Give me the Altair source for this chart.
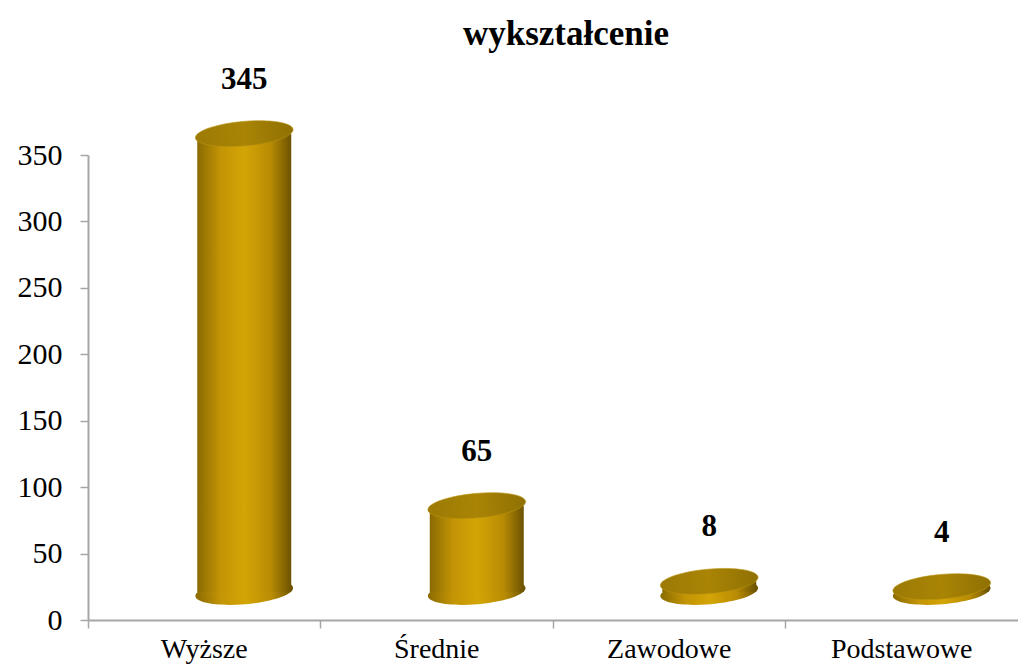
import altair as alt
import pandas as pd

categories = ["Wyższe", "Średnie", "Zawodowe", "Podstawowe"]
values = [345, 65, 8, 4]
title_text = "wykształcenie"

df = pd.DataFrame({"kategoria": categories, "liczba": values, "zero": [0] * len(values)})

FONT = "Liberation Serif"
DX, DY = 40, -28   # 3D depth shift of the cylinders (pixels)
W = 98             # cylinder width (pixels)
ELLIPSE = "M-1,0A1,0.25,0,1,0,1,0A1,0.25,0,1,0,-1,0Z"
TILT = 355

body = alt.Gradient(
    gradient="linear", x1=0, x2=1, y1=0, y2=0,
    stops=[
        alt.GradientStop(color="#8a6b02", offset=0),
        alt.GradientStop(color="#c39405", offset=0.25),
        alt.GradientStop(color="#d4a506", offset=0.5),
        alt.GradientStop(color="#b88b04", offset=0.78),
        alt.GradientStop(color="#6c5300", offset=1),
    ],
)
top_fill = alt.Gradient(
    gradient="linear", x1=0, x2=1, y1=0, y2=0,
    stops=[
        alt.GradientStop(color="#9c7a04", offset=0),
        alt.GradientStop(color="#a98405", offset=0.5),
        alt.GradientStop(color="#8f7003", offset=1),
    ],
)

x_enc = alt.X(
    "kategoria:N", sort=categories, title=None,
    scale=alt.Scale(paddingInner=0, paddingOuter=0),
    axis=alt.Axis(labelAngle=0, bandPosition=0, labelFont=FONT, labelFontSize=28,
                  labelColor="#000000", labelPadding=7, tickSize=8, grid=False,
                  domainColor="#a6a6a6", tickColor="#a6a6a6", domainWidth=2, tickWidth=1.5),
)
y_scale = alt.Scale(domain=[0, 350], nice=False)
y_axis = alt.Axis(values=[0, 50, 100, 150, 200, 250, 300, 350], grid=False,
                  labelFont=FONT, labelFontSize=30, labelColor="#000000",
                  labelPadding=18, tickSize=8, domainColor="#a6a6a6",
                  tickColor="#a6a6a6", domainWidth=2, tickWidth=1.5)

base = alt.Chart(df).encode(x=x_enc)

bottom = base.mark_point(
    shape=ELLIPSE, size=W * W, filled=True, fill=body, opacity=1, strokeWidth=0,
    angle=TILT, xOffset=DX, yOffset=DY,
).encode(y=alt.Y("zero:Q", scale=y_scale, axis=y_axis, title=None))

bars = base.mark_bar(
    width=W - 4, fill=body, xOffset=DX, yOffset=DY, y2Offset=DY,
).encode(
    y=alt.Y("liczba:Q", scale=y_scale, axis=y_axis, title=None),
    y2=alt.Y2("zero:Q", title=None),
)

top = base.mark_point(
    shape=ELLIPSE, size=W * W, filled=True, fill=top_fill, opacity=1,
    stroke="#b8930f", strokeWidth=0.6, angle=TILT, xOffset=DX, yOffset=DY,
).encode(y=alt.Y("liczba:Q", scale=y_scale, axis=y_axis, title=None))

labels = base.mark_text(
    font=FONT, fontSize=31, fontWeight="bold", color="#000000",
    baseline="middle", align="center", dx=DX, dy=DY - 54,
).encode(y=alt.Y("liczba:Q", scale=y_scale, axis=y_axis, title=None),
         text=alt.Text("liczba:Q"))

chart = alt.layer(bottom, bars, top, labels).properties(
    width=930, height=465,
    background="#ffffff",
    title=alt.TitleParams(title_text, font=FONT, fontSize=35, fontWeight="bold",
                          color="#000000", anchor="middle", dx=13, offset=12),
    autosize=alt.AutoSizeParams(type="none"),
    padding={"left": 80, "top": 147, "right": 0, "bottom": 48},
).configure_view(strokeWidth=0, stroke="transparent").configure_axis(grid=False)

chart.save("out.html", embed_options={"renderer": "svg", "actions": False})
